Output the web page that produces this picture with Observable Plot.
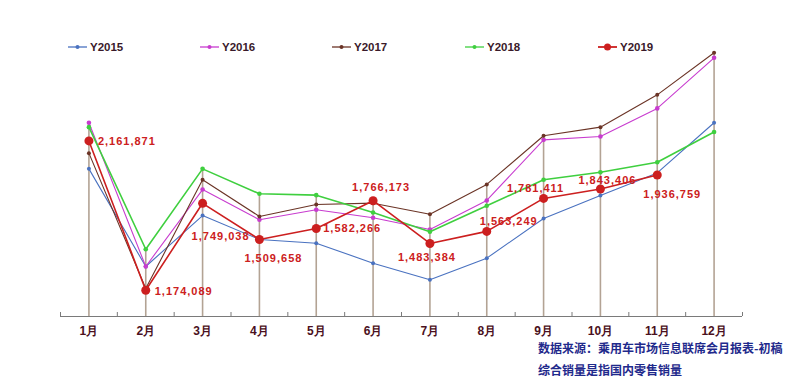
<!DOCTYPE html>
<html>
<head>
<meta charset="utf-8">
<script src="https://cdn.jsdelivr.net/npm/d3@7"></script>
<script src="https://cdn.jsdelivr.net/npm/@observablehq/plot@0.6"></script>
<style>
  html, body { margin: 0; padding: 0; background: #fff; }
  #wrap { position: relative; width: 800px; height: 377px; overflow: hidden; }
  #legend { position: absolute; top: 39px; left: 0; width: 800px; height: 16px;
    font-family: "Liberation Sans", Arial, sans-serif; font-weight: bold; font-size: 11.5px; color: #3a1a2a; }
  .li { position: absolute; top: 0; display: flex; align-items: center; height: 16px; }
  .li svg { margin-right: 3px; }
  #note { position: absolute; left: 538px; top: 341px; font-family: "Noto Sans CJK SC", sans-serif;
    font-weight: bold; font-size: 12px; color: #1f2a8c; line-height: 13px; }
  #note div + div { margin-top: 9px; }
</style>
</head>
<body>
<div id="wrap">
  <div id="chart"></div>
  <div id="legend"></div>
  <div id="note"></div>
</div>
<script>
const months = [1, 2, 3, 4, 5, 6, 7, 8, 9, 10, 11, 12];
const monthLabels = ["1月","2月","3月","4月","5月","6月","7月","8月","9月","10月","11月","12月"];
const seriesNames = ["Y2015", "Y2016", "Y2017", "Y2018", "Y2019"];
const Y2015 = [1977000, 1331000, 1668000, 1510000, 1485000, 1353000, 1243000, 1386000, 1649000, 1801000, 1950000, 2282000];
const Y2016 = [2282000, 1331000, 1840000, 1640000, 1706000, 1653000, 1576000, 1768000, 2169000, 2191000, 2377000, 2712000];
const Y2017 = [2081000, 1185000, 1905000, 1662000, 1741000, 1750000, 1677000, 1874000, 2196000, 2253000, 2467000, 2745000];
const Y2018 = [2253000, 1445000, 1977000, 1812000, 1803000, 1688000, 1561000, 1733000, 1905000, 1955000, 2021000, 2221000];
const Y2019 = [2161871, 1174089, 1749038, 1509658, 1582266, 1766173, 1483384, 1563249, 1781411, 1843406, 1936759, null];
const noteLines = ["数据来源：乘用车市场信息联席会月报表-初稿", "综合销量是指国内零售销量"];

// styling (kept separate from data)
const colors = { Y2015: "#4a72c0", Y2016: "#c83ccf", Y2017: "#6b3426", Y2018: "#3fcf3f", Y2019: "#cc1f1f" };
const widths = { Y2015: 1.1, Y2016: 1.1, Y2017: 1.1, Y2018: 1.6, Y2019: 1.6 };
const dotR = { Y2015: 2, Y2016: 2.3, Y2017: 2, Y2018: 2.3, Y2019: 4.5 };
// label offsets for the Y2019 value labels [dx, dy, anchor]
const labelPos = [[9,1,"start"],[9,1,"start"],[18,33,"middle"],[14,19,"middle"],[7,0,"start"],[8,-13,"middle"],[-3,14,"middle"],[22,-10,"middle"],[-8,-10,"middle"],[7,-9,"middle"],[15,20,"middle"]];
const legendX = [68, 200, 332, 465, 598];

const all = { Y2015, Y2016, Y2017, Y2018, Y2019 };
const rows = [];
for (const s of seriesNames) months.forEach((m, i) => { if (all[s][i] != null) rows.push({ series: s, month: m, value: all[s][i] }); });
const maxRows = months.map((m, i) => ({ month: m, max: d3.max(seriesNames, s => all[s][i]) }));
const bounds = d3.range(0.5, 13, 1);
const redRows = rows.filter(d => d.series === "Y2019").map((d, i) => ({ ...d, dx: labelPos[i][0], dy: labelPos[i][1], anchor: labelPos[i][2] }));

const marks = [
  Plot.ruleX(maxRows, { x: "month", y1: 1000000, y2: "max", stroke: "#b3a394", strokeWidth: 1.6 }),
  Plot.ruleY([1000000], { stroke: "#7a7a7a", strokeWidth: 1.2 }),
  Plot.ruleX(bounds, { x: d => d, y1: 1000000, y2: 1000000, insetTop: -4, stroke: "#7a7a7a", strokeWidth: 1 }),
  Plot.axisX(months, { tickSize: 0, tickPadding: 10, tickFormat: d => monthLabels[d - 1], fontWeight: "bold", fontSize: 12, fill: "#4a1020", fontFamily: "Liberation Sans, Arial, sans-serif", label: null })
];
for (const s of seriesNames) {
  const data = rows.filter(d => d.series === s);
  marks.push(Plot.line(data, { x: "month", y: "value", stroke: colors[s], strokeWidth: widths[s] }));
  marks.push(Plot.dot(data, { x: "month", y: "value", fill: colors[s], r: dotR[s], stroke: "none" }));
}
for (const d of redRows) {
  marks.push(Plot.text([d], { x: "month", y: "value", text: r => d3.format(",")(r.value), dx: d.dx, dy: d.dy, textAnchor: d.anchor,
    fill: "#cc2020", fontWeight: "bold", fontSize: 11, fontFamily: "Liberation Sans, Arial, sans-serif" }));
}

const chart = Plot.plot({
  width: 800, height: 377,
  marginTop: 44, marginBottom: 61, marginLeft: 60, marginRight: 58,
  x: { type: "linear", domain: [0.5, 12.5], axis: null },
  y: { domain: [1000000, 2800000], axis: null },
  style: { background: "#fff" },
  marks
});
chart.querySelectorAll("text").forEach(t => { if (/\d,\d/.test(t.textContent)) t.style.letterSpacing = "1px"; });
document.getElementById("chart").appendChild(chart);

// legend
const legend = document.getElementById("legend");
seriesNames.forEach((s, i) => {
  const el = document.createElement("div");
  el.className = "li";
  el.style.left = legendX[i] + "px";
  const big = s === "Y2019";
  el.innerHTML = `<svg width="19" height="10"><line x1="0" x2="19" y1="5" y2="5" stroke="${colors[s]}" stroke-width="${big ? 1.8 : 1.3}"/><circle cx="9.5" cy="5" r="${big ? 3.5 : 2}" fill="${colors[s]}"/></svg><span>${s}</span>`;
  legend.appendChild(el);
});
document.getElementById("note").innerHTML = noteLines.map(l => `<div>${l}</div>`).join("");
</script>
</body>
</html>
